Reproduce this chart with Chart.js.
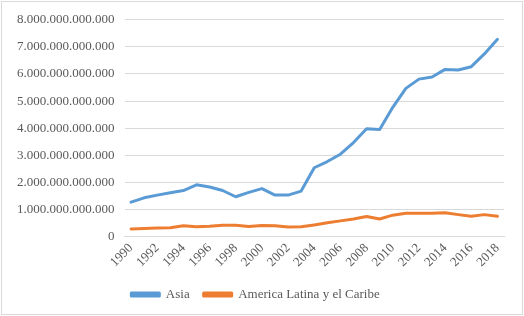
<!DOCTYPE html>
<html>
<head>
<meta charset="utf-8">
<script src="https://cdn.jsdelivr.net/npm/chart.js@4"></script>
<style>
  html, body { margin: 0; padding: 0; background: #fff; }
  #wrap {
    position: absolute; left: 1px; top: 1px;
    width: 520px; height: 312px;
    border: 1px solid #d9d9d9;
  }
</style>
</head>
<body>
<div id="wrap"><canvas id="chart" width="520" height="312"></canvas></div>
<script>
const years = ['1990','1991','1992','1993','1994','1995','1996','1997','1998','1999',
  '2000','2001','2002','2003','2004','2005','2006','2007','2008','2009',
  '2010','2011','2012','2013','2014','2015','2016','2017','2018'];

const asia = [1.27e12, 1.43e12, 1.53e12, 1.62e12, 1.70e12, 1.91e12, 1.83e12, 1.70e12, 1.47e12, 1.63e12,
  1.77e12, 1.53e12, 1.53e12, 1.68e12, 2.54e12, 2.77e12, 3.04e12, 3.47e12, 3.98e12, 3.95e12,
  4.77e12, 5.47e12, 5.81e12, 5.89e12, 6.17e12, 6.15e12, 6.27e12, 6.74e12, 7.28e12];

const latam = [0.28e12, 0.30e12, 0.32e12, 0.33e12, 0.40e12, 0.36e12, 0.38e12, 0.42e12, 0.42e12, 0.37e12,
  0.41e12, 0.40e12, 0.35e12, 0.36e12, 0.43e12, 0.51e12, 0.58e12, 0.65e12, 0.74e12, 0.65e12,
  0.79e12, 0.86e12, 0.86e12, 0.86e12, 0.88e12, 0.81e12, 0.75e12, 0.81e12, 0.75e12];

const seriesNames = ['Asia', 'America Latina y el Caribe'];
const yMax = 8e12;
const yStep = 1e12;

const textColor = '#595959';
const fontFamily = '"Liberation Serif", "Times New Roman", serif';

function fmt(v) {
  return String(Math.round(v)).replace(/\B(?=(\d{3})+(?!\d))/g, '.');
}

function lineSet(label, data, color) {
  return {
    label: label,
    data: data,
    borderColor: color,
    backgroundColor: color,
    borderWidth: 3,
    pointRadius: 0,
    tension: 0,
    borderCapStyle: 'round',
    borderJoinStyle: 'round'
  };
}

new Chart(document.getElementById('chart').getContext('2d'), {
  type: 'line',
  data: {
    labels: years,
    datasets: [
      lineSet(seriesNames[0], asia, '#5b9bd5'),
      lineSet(seriesNames[1], latam, '#ed7d31')
    ]
  },
  options: {
    responsive: false,
    animation: false,
    layout: { padding: { left: 5, right: 18, top: 9, bottom: 3 } },
    scales: {
      x: {
        offset: true,
        grid: { display: false, drawTicks: false },
        border: { display: true, color: '#d9d9d9' },
        ticks: {
          autoSkip: false,
          minRotation: 45,
          maxRotation: 45,
          padding: 4,
          color: textColor,
          font: { family: fontFamily, size: 13 },
          callback: function (value, index) {
            return index % 2 === 0 ? years[index] : '';
          }
        }
      },
      y: {
        min: 0,
        max: yMax,
        grid: { color: '#d9d9d9', drawTicks: false },
        border: { display: false },
        ticks: {
          stepSize: yStep,
          padding: 10,
          color: textColor,
          font: { family: fontFamily, size: 13 },
          callback: function (value) { return fmt(value); }
        }
      }
    },
    plugins: {
      legend: {
        position: 'bottom',
        labels: {
          boxWidth: 28,
          boxHeight: 3,
          padding: 14,
          color: textColor,
          font: { family: fontFamily, size: 13 }
        }
      },
      tooltip: { enabled: false }
    }
  }
});
</script>
</body>
</html>
